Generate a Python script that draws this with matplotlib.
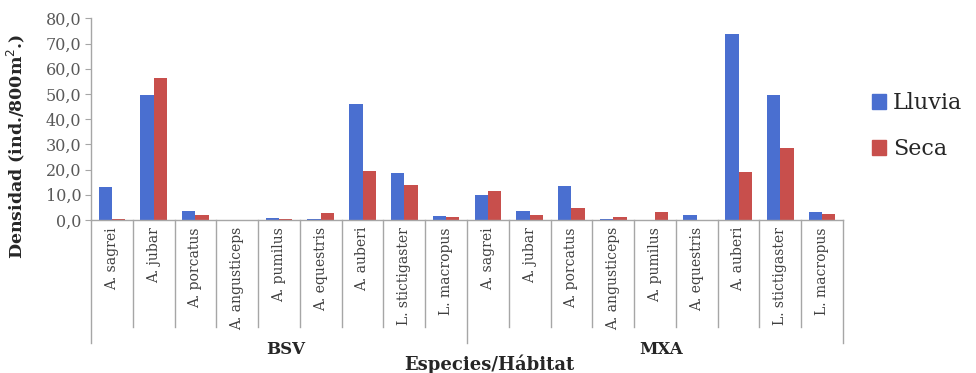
import matplotlib
matplotlib.use("Agg")
import matplotlib.pyplot as plt
import matplotlib.transforms as mtransforms
from matplotlib.patches import Patch
import numpy as np

species = ["A. sagrei", "A. jubar", "A. porcatus", "A. angusticeps", "A. pumilus",
           "A. equestris", "A. auberi", "L. stictigaster", "L. macropus"]
habitats = ["BSV", "MXA"]

lluvia_bsv = [13.0, 49.5, 3.6, 0.0, 0.9, 0.4, 46.0, 18.8, 1.5]
seca_bsv = [0.5, 56.3, 2.0, 0.0, 0.5, 2.6, 19.3, 14.0, 1.0]
lluvia_mxa = [9.8, 3.7, 13.5, 0.5, 0.0, 2.1, 73.8, 49.6, 3.0]
seca_mxa = [11.4, 2.0, 4.6, 1.0, 3.2, 0.0, 18.9, 28.7, 2.2]

series_names = ["Lluvia", "Seca"]
yticks = [0, 10, 20, 30, 40, 50, 60, 70, 80]

blue = "#4A6FD0"
red = "#C84F4C"
grid_grey = "#A6A6A6"
serif = ["DejaVu Serif"]

lluvia = lluvia_bsv + lluvia_mxa
seca = seca_bsv + seca_mxa
labels = species + species
n = len(labels)
x = np.arange(n)

fig = plt.figure(figsize=(9.76, 3.73), dpi=100)
ax = fig.add_axes([91 / 976, 1 - 220 / 373, (843 - 91) / 976, (220 - 18.3) / 373])

w = 0.32
ax.bar(x - w / 2, lluvia, width=w, color=blue, zorder=2)
ax.bar(x + w / 2, seca, width=w, color=red, zorder=2)

ax.set_xlim(-0.5, n - 0.5)
ax.set_ylim(0, 80)
ax.set_yticks(yticks)
ax.set_yticklabels([f"{v:.1f}".replace(".", ",") for v in yticks],
                   fontfamily=serif, fontsize=11.5, color="#595959")
ax.tick_params(axis="y", length=4, color=grid_grey, pad=3)
ax.set_xticks([])

for side in ("top", "right"):
    ax.spines[side].set_visible(False)
for side in ("left", "bottom"):
    ax.spines[side].set_color(grid_grey)
    ax.spines[side].set_linewidth(1.0)

trans = mtransforms.blended_transform_factory(ax.transData, ax.transAxes)

# category separators below the axis
for b in np.arange(-0.5, n, 1.0):
    group_edge = b in (-0.5, len(species) - 0.5, n - 0.5)
    y_end = -0.61 if group_edge else -0.53
    ax.plot([b, b], [0, y_end], color=grid_grey, lw=1.0, transform=trans,
            clip_on=False)

for xi, lab in zip(x, labels):
    ax.text(xi, -0.035, lab, rotation=90, ha="center", va="top", transform=trans,
            fontfamily=serif, fontsize=10, color="#404040")

for gi, hab in enumerate(habitats):
    center = gi * len(species) + (len(species) - 1) / 2 + 0.15
    ax.text(center, -0.64, hab, ha="center", va="center", transform=trans,
            fontfamily=serif, fontsize=12, fontweight="bold", color="#262626")

fig.text(489 / 976, 1 - 364 / 373, "Especies/Hábitat", ha="center", va="center",
         fontfamily=serif, fontsize=13, fontweight="bold", color="#262626")
fig.text(16 / 976, 1 - 146 / 373, "Densidad (ind./800m$^{2}$.)", rotation=90,
         ha="center", va="center", fontfamily=serif, fontsize=12.5,
         fontweight="bold", color="#262626")

handles = [Patch(color=blue), Patch(color=red)]
fig.legend(handles, series_names, loc="upper left",
           bbox_to_anchor=(872 / 976, 1 - 92 / 373), frameon=False,
           borderpad=0, borderaxespad=0,
           prop={"family": serif, "size": 16}, labelspacing=1.1,
           handlelength=0.65, handleheight=0.65, handletextpad=0.3,
           labelcolor="#262626")

fig.savefig("out.png", dpi=100)
